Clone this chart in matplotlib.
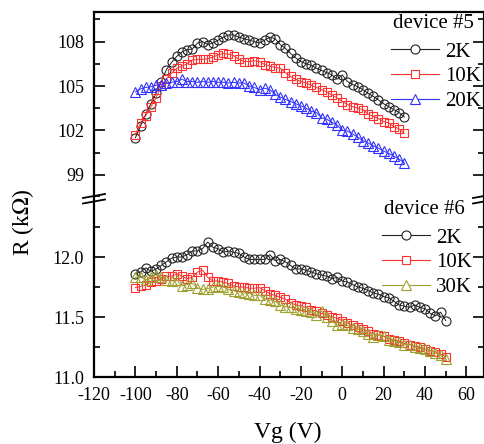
import numpy as np
import matplotlib
matplotlib.use('Agg')
import matplotlib.pyplot as plt
from matplotlib.lines import Line2D

plt.rcParams['font.family'] = ['Liberation Serif', 'DejaVu Serif']
plt.rcParams['mathtext.fontset'] = 'stix'
plt.rcParams['axes.unicode_minus'] = False

# device #5 : gate sweep -100 .. 30 V
vg5 = np.arange(-100, 30.1, 2.5)
r5_2k = [101.5, 102.3, 103.1, 103.8, 104.5, 105.3, 106.1, 106.6, 107.0, 107.3,
         107.45, 107.5, 107.9, 108.0, 107.8, 107.9, 108.1, 108.3, 108.45, 108.45,
         108.3, 108.2, 108.1, 108.0, 107.9, 108.1, 108.3, 108.2, 107.8, 107.55,
         107.2, 106.9, 106.65, 106.5, 106.4, 106.2, 106.05, 105.9, 105.75, 105.45,
         105.75, 105.3, 105.1, 104.95, 104.75, 104.5, 104.3, 104.06, 103.8, 103.6,
         103.4, 103.2, 102.9]
r5_10k = [101.7, 102.5, 103.0, 103.6, 104.2, 105.0, 105.5, 105.85, 106.2, 106.35,
          106.5, 106.75, 106.8, 106.8, 106.85, 106.95, 107.1, 107.2, 107.15, 107.05,
          106.8, 106.65, 106.65, 106.7, 106.65, 106.45, 106.35, 106.25, 106.2, 105.9,
          105.65, 105.45, 105.3, 105.2, 105.05, 104.9, 104.75, 104.6, 104.4, 104.2,
          103.95, 103.75, 103.6, 103.5, 103.4, 103.1, 102.95, 102.8, 102.6, 102.5,
          102.25, 102.1, 101.8]
r5_20k = [104.6, 104.8, 104.9, 104.95, 105.05, 105.1, 105.2, 105.25, 105.3, 105.45,
          105.3, 105.3, 105.25, 105.3, 105.25, 105.3, 105.25, 105.25, 105.2, 105.25,
          105.2, 105.2, 105.0, 104.9, 104.75, 104.85, 104.75, 104.45, 104.25, 104.1,
          103.95, 103.8, 103.65, 103.5, 103.3, 103.2, 102.85, 102.75, 102.55, 102.35,
          102.0, 101.95, 101.75, 101.55, 101.3, 101.15, 100.95, 100.8, 100.6, 100.45,
          100.25, 100.05, 99.8]

# device #6 : gate sweep -100 .. 50 V
vg6 = np.arange(-100, 50.1, 2.5)
r6_2k = [11.86, 11.875, 11.91, 11.88, 11.9, 11.93, 11.96, 11.99, 12.0, 12.0,
         12.02, 12.05, 12.05, 12.07, 12.125, 12.08, 12.07, 12.04, 12.05, 12.04,
         12.03, 12.0, 11.98, 11.98, 11.98, 11.98, 12.02, 11.97, 11.98, 11.96,
         11.93, 11.9, 11.9, 11.89, 11.875, 11.86, 11.85, 11.84, 11.82, 11.83,
         11.8, 11.79, 11.77, 11.75, 11.74, 11.72, 11.7, 11.69, 11.67, 11.66,
         11.63, 11.6, 11.59, 11.58, 11.6, 11.58, 11.57, 11.53, 11.51, 11.54,
         11.47]
r6_10k = [11.745, 11.755, 11.77, 11.79, 11.8, 11.82, 11.84, 11.84, 11.86, 11.84,
          11.82, 11.83, 11.875, 11.89, 11.83, 11.8, 11.8, 11.79, 11.78, 11.76,
          11.75, 11.75, 11.74, 11.74, 11.745, 11.72, 11.695, 11.68, 11.665, 11.65,
          11.62, 11.6, 11.59, 11.58, 11.56, 11.55, 11.53, 11.52, 11.5, 11.49,
          11.47, 11.45, 11.43, 11.42, 11.4, 11.38, 11.36, 11.35, 11.34, 11.32,
          11.31, 11.3, 11.28, 11.27, 11.26, 11.25, 11.23, 11.22, 11.21, 11.19,
          11.17]
r6_30k = [11.83, 11.83, 11.81, 11.83, 11.85, 11.83, 11.81, 11.8, 11.805, 11.76,
          11.77, 11.78, 11.74, 11.73, 11.735, 11.75, 11.755, 11.75, 11.73, 11.72,
          11.71, 11.7, 11.695, 11.68, 11.68, 11.65, 11.64, 11.63, 11.6, 11.585,
          11.58, 11.57, 11.56, 11.55, 11.54, 11.52, 11.55, 11.5, 11.47, 11.43,
          11.44, 11.43, 11.41, 11.4, 11.38, 11.36, 11.33, 11.35, 11.34, 11.31,
          11.3, 11.29, 11.27, 11.27, 11.25, 11.24, 11.23, 11.22, 11.2, 11.18,
          11.15]

BLACK = '#202020'
RED = '#ff3030'
BLUE = '#3030ff'
OLIVE = '#a0a030'

fig = plt.figure(figsize=(4.84, 4.44), dpi=100)
W, H = 484, 444
left, right = 94 / W, 484 / W
y_top, y_mid, y_bot = 1 - 12 / H, 1 - 197 / H, 1 - 377 / H
ax1 = fig.add_axes([left, y_mid, right - left, y_top - y_mid])
ax2 = fig.add_axes([left, y_bot, right - left, y_mid - y_bot])


def series(ax, x, y, color, marker, ms):
    ax.plot(x, y, color=color, lw=0.7, marker=marker, ms=ms,
            mfc='none', mec=color, mew=0.8)


series(ax1, vg5, r5_2k, BLACK, 'o', 6.5)
series(ax1, vg5, r5_10k, RED, 's', 5.5)
series(ax1, vg5, r5_20k, BLUE, '^', 6.5)
series(ax2, vg6, r6_2k, BLACK, 'o', 6.5)
series(ax2, vg6, r6_10k, RED, 's', 5.5)
series(ax2, vg6, r6_30k, OLIVE, '^', 6.5)

for ax in (ax1, ax2):
    ax.set_xlim(-120, 68.5)
    ax.set_xticks(np.arange(-120, 61, 20))
    ax.set_xticks(np.arange(-110, 61, 20), minor=True)
    ax.tick_params(which='both', direction='in', right=True, top=False,
                   width=1.2, labelsize=13, pad=7)
    ax.tick_params(which='major', length=8)
    ax.tick_params(which='minor', length=4.5)
    for s in ax.spines.values():
        s.set_linewidth(1.6)

ax1.set_ylim(97.5, 110)
ax1.set_yticks([99, 102, 105, 108])
ax1.set_yticks([97.5, 100.5, 103.5, 106.5, 109.5], minor=True)
ax1.spines['bottom'].set_visible(False)
ax1.tick_params(which='both', bottom=False, labelbottom=False)

ax2.set_ylim(11.0, 12.5)
ax2.set_yticks([11.0, 11.5, 12.0])
ax2.set_yticklabels(['11.0', '11.5', '12.0'])
ax2.set_yticks([11.25, 11.75, 12.25], minor=True)
ax2.spines['top'].set_visible(False)

# axis break marks
for xb in (left, right):
    for dy in (0, 5.5):
        fig.add_artist(Line2D([xb - 11 / W, xb + 11 / W],
                              [1 - (198 + dy) / H, 1 - (194 + dy) / H],
                              color='k', lw=1.3, transform=fig.transFigure))

fig.text(288 / W, 1 - 432 / H, 'Vg (V)', ha='center', va='center', fontsize=17)
fig.text(23 / W, 1 - 222 / H, 'R (k$\\Omega$)', ha='center', va='center',
         rotation=90, fontsize=17)


def make_legend(ax, labels, colors, markers, title, x0, y0, ty):
    handles = [Line2D([], [], color=c, lw=0.8, marker=m, ms=6.5 if m != 's' else 5.5,
                      mfc='white', mec=c, mew=0.8)
               for c, m in zip(colors, markers)]
    leg = ax.legend(handles, labels, loc='upper left',
                    bbox_to_anchor=(x0 / W, 1 - y0 / H),
                    bbox_transform=fig.transFigure, frameon=False,
                    fontsize=15, borderpad=0, borderaxespad=0, handlelength=2.3,
                    handletextpad=0.3, labelspacing=0.25)
    leg.set_zorder(5)
    fig.text((x0 + 2) / W, 1 - ty / H, title, ha='left', va='center', fontsize=15)
    return leg


make_legend(ax1, ['2K', '10K', '20K'], [BLACK, RED, BLUE], ['o', 's', '^'],
            'device #5', 391, 42, 24)
make_legend(ax2, ['2K', '10K', '30K'], [BLACK, RED, OLIVE], ['o', 's', '^'],
            'device #6', 382, 228, 209)

fig.savefig('out.png', dpi=100)
